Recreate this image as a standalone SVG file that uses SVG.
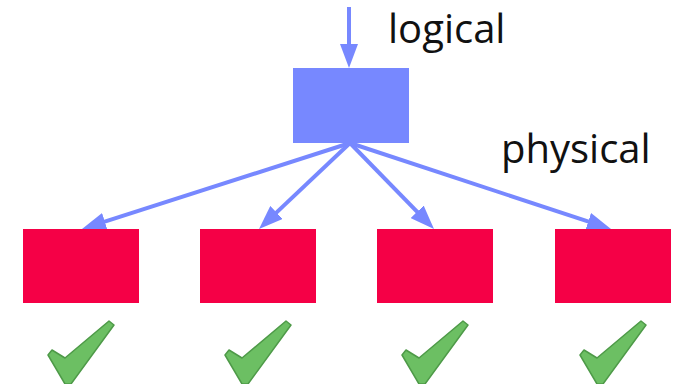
<svg xmlns="http://www.w3.org/2000/svg" width="673" height="384" viewBox="0 0 673 384">
<defs>
<style>
.logic{fill:#7788FF}
.phys{fill:#F50046}
.conn{stroke:#7788FF;stroke-width:4;fill:none}
.lbl{font-family:"Open Sans","Liberation Sans",sans-serif;font-size:40px;fill:#111111}
.check{fill:#6CBF63;stroke:#4E9A48;stroke-width:1.5;stroke-linejoin:round}
</style>
<marker id="ah" viewBox="0 0 24 18" markerWidth="24" markerHeight="18" refX="14" refY="9" orient="auto" markerUnits="userSpaceOnUse">
<path d="M0,0 L24,9 L0,18 Z" fill="#7788FF"/>
</marker>
<path id="tick" d="M48,355 L52,350 L65,358 L109,321 L114,325 L71,384 L65,384 Z"/>
</defs>
<rect width="673" height="384" fill="#FFFFFF"/>
<g id="connectors">
<line class="conn" x1="349" y1="7" x2="349" y2="58" marker-end="url(#ah)"/>
<line class="conn" x1="350" y1="143" x2="91.5" y2="225.9" marker-end="url(#ah)"/>
<line class="conn" x1="350" y1="143" x2="266.3" y2="222.1" marker-end="url(#ah)"/>
<line class="conn" x1="350" y1="143" x2="427" y2="221.8" marker-end="url(#ah)"/>
<line class="conn" x1="350" y1="143" x2="601.5" y2="225.9" marker-end="url(#ah)"/>
</g>
<g id="logical-node">
<rect class="logic" x="293" y="68" width="116" height="75"/>
</g>
<g id="physical-1"><rect class="phys" x="23" y="229" width="116" height="74"/></g>
<g id="physical-2"><rect class="phys" x="200" y="229" width="116" height="74"/></g>
<g id="physical-3"><rect class="phys" x="377" y="229" width="116" height="74"/></g>
<g id="physical-4"><rect class="phys" x="555" y="229" width="116" height="74"/></g>
<g id="labels">
<text class="lbl" x="388" y="43">logical</text>
<text class="lbl" x="501" y="163">physical</text>
</g>
<g id="checks">
<use href="#tick" class="check"/>
<use href="#tick" class="check" transform="translate(177,0)"/>
<use href="#tick" class="check" transform="translate(354,0)"/>
<use href="#tick" class="check" transform="translate(532,0)"/>
</g>
</svg>
